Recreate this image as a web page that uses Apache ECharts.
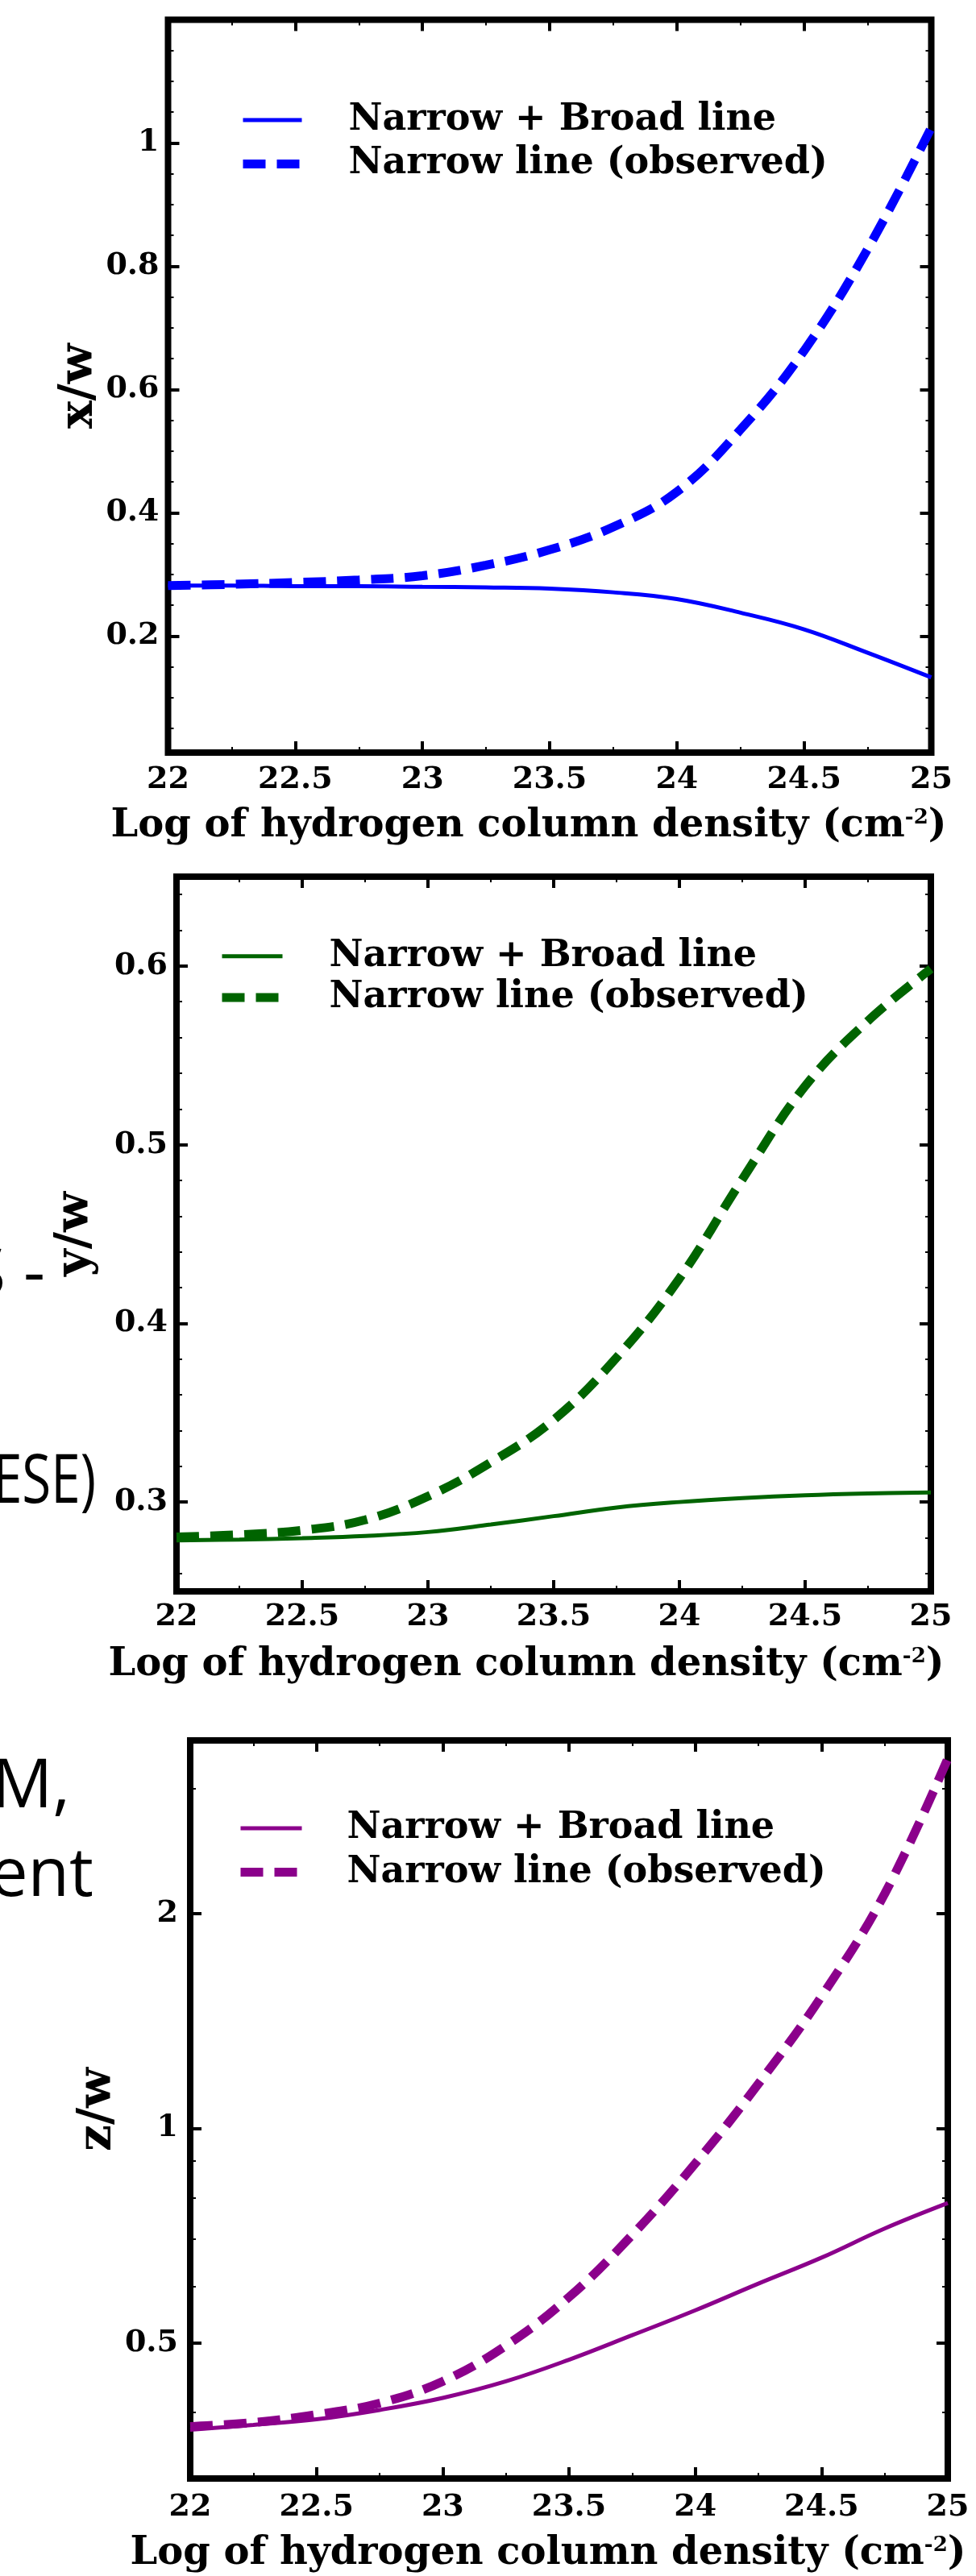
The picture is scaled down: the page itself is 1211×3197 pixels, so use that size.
<!DOCTYPE html>
<html><head><meta charset="utf-8">
<script src="https://cdn.jsdelivr.net/npm/echarts@6/dist/echarts.min.js"></script>
<style>
html,body{margin:0;padding:0;background:#fff;}
body{position:relative;width:1211px;height:3197px;overflow:hidden;}
.frag{position:absolute;font-family:'Open Sans';font-size:84px;line-height:84px;white-space:nowrap;color:#000;transform-origin:100% 50%;}
.chart{position:absolute;left:0;width:1211px;}
</style></head><body>
<div class="frag" style="right:1155px;top:1534px">S -</div>
<div class="frag" style="right:1092px;top:1791px;transform:scaleX(0.78)">(ESE)</div>
<div class="frag" style="right:1124px;top:2169px">SM,</div>
<div class="frag" style="right:1095px;top:2279px">ment</div>
<div id="c1" class="chart" style="top:0;height:1065px"></div>
<div id="c2" class="chart" style="top:1065px;height:1065px"></div>
<div id="c3" class="chart" style="top:2130px;height:1067px"></div>
<script>
// ---- data ----
const xValues = [22, 22.25, 22.5, 22.75, 23, 23.25, 23.5, 23.75, 24, 24.25, 24.5, 24.75, 25];
const seriesNames = ['Narrow + Broad line', 'Narrow line (observed)'];
const xwNarrowBroad   = [0.282, 0.282, 0.281, 0.281, 0.280, 0.279, 0.277, 0.271, 0.260, 0.238, 0.211, 0.173, 0.133];
const xwNarrowObserved= [0.282, 0.284, 0.287, 0.291, 0.298, 0.315, 0.340, 0.377, 0.434, 0.535, 0.663, 0.828, 1.025];
const ywNarrowBroad   = [0.2785, 0.279, 0.2798, 0.281, 0.2832, 0.2874, 0.2921, 0.2969, 0.300, 0.3022, 0.3038, 0.3048, 0.3054];
const ywNarrowObserved= [0.2804, 0.2817, 0.2842, 0.290, 0.3032, 0.3222, 0.346, 0.3808, 0.4251, 0.4806, 0.5328, 0.5693, 0.5984];
const zwNarrowBroad   = [0.378, 0.384, 0.391, 0.403, 0.419, 0.442, 0.474, 0.513, 0.556, 0.606, 0.659, 0.724, 0.786];
const zwNarrowObserved= [0.382, 0.387, 0.397, 0.412, 0.442, 0.496, 0.580, 0.709, 0.893, 1.155, 1.532, 2.133, 3.300];
const xwMajorTicks = [0.2, 0.4, 0.6, 0.8, 1];
const xwMinorTicks = [0.05,0.1,0.15,0.25,0.3,0.35,0.45,0.5,0.55,0.65,0.7,0.75,0.85,0.9,0.95,1.05,1.1,1.15];
const ywMajorTicks = [0.3, 0.4, 0.5, 0.6];
const ywMinorTicks = [0.26,0.28,0.32,0.34,0.36,0.38,0.42,0.44,0.46,0.48,0.52,0.54,0.56,0.58,0.62,0.64];
const zwMajorTicks = [0.5, 1, 2];
const zwMinorTicks = [0.4, 0.6, 0.7, 0.8, 0.9, 3];
const xTitle = 'Log of hydrogen column density (cm{sup|-2})';

const SERIF = 'DejaVu Serif';
const TICK_FS = 38;
const log10 = v => Math.log10(v);

function yAxisSet(c) {
  const base = {type: 'value', min: c.min, max: c.max, splitLine: {show: false}, axisLine: {show: false, onZero: false}};
  const major = {inside: true, length: 14, lineStyle: {color: '#000', width: 4}, customValues: c.majors};
  const minor = {inside: true, length: 7, lineStyle: {color: '#000', width: 2}, customValues: c.minors};
  return [
    Object.assign({}, base, {position: 'left', axisTick: major,
      axisLabel: {customValues: c.majors, margin: c.labelMargin, fontFamily: SERIF, fontSize: TICK_FS, fontWeight: 'bold', color: '#000', formatter: c.fmt},
      name: c.name, nameLocation: 'middle', nameGap: c.nameGap, nameMoveOverlap: false,
      nameTextStyle: {fontFamily: SERIF, fontSize: 58, fontWeight: 'bold', color: '#000'}}),
    Object.assign({}, base, {position: 'left', axisTick: minor, axisLabel: {show: false}}),
    Object.assign({}, base, {position: 'right', axisTick: major, axisLabel: {show: false}}),
    Object.assign({}, base, {position: 'right', axisTick: minor, axisLabel: {show: false}})
  ];
}

function xAxisSet(c) {
  const base = {type: 'value', min: 22, max: 25, interval: 0.5, splitLine: {show: false}, axisLine: {show: false, onZero: false},
    axisTick: {inside: true, length: 14, lineStyle: {color: '#000', width: 4}},
    minorTick: {show: true, splitNumber: 2, length: 7, lineStyle: {color: '#000', width: 2}},
    minorSplitLine: {show: false}};
  return [
    Object.assign({}, base, {position: 'bottom',
      axisLabel: {margin: c.labelMargin, fontFamily: SERIF, fontSize: TICK_FS, fontWeight: 'bold', color: '#000', showMinLabel: true, showMaxLabel: true, formatter: v => String(v)},
      name: xTitle, nameLocation: 'middle', nameGap: c.nameGap, nameMoveOverlap: false,
      nameTextStyle: {fontFamily: SERIF, fontSize: 48, fontWeight: 'bold', color: '#000', padding: c.namePad,
        rich: {sup: {fontFamily: SERIF, fontSize: 26, fontWeight: 'bold', color: '#000', verticalAlign: 'top'}}}}),
    Object.assign({}, base, {position: 'top', axisLabel: {show: false}})
  ];
}

function makeOption(c) {
  const tf = c.tf || (v => v);
  return {
    animation: false,
    grid: {left: c.grid[0], top: c.grid[1], width: c.grid[2], height: c.grid[3], show: true,
      borderColor: '#000', borderWidth: 8, backgroundColor: 'transparent', containLabel: false, outerBoundsMode: 'none'},
    legend: {orient: 'vertical', left: c.legend[0], top: c.legend[1], padding: 0, itemWidth: c.legend[2], itemHeight: 14,
      itemGap: c.legend[3], data: seriesNames,
      lineStyle: {width: 'inherit'}, itemStyle: {opacity: 0},
      textStyle: {fontFamily: SERIF, fontSize: 46, fontWeight: 'bold', color: '#000', lineHeight: 50, padding: [0, 0, 0, c.legend[4]]}},
    xAxis: xAxisSet(c.x),
    yAxis: yAxisSet(c.y),
    series: [
      {type: 'line', name: seriesNames[0], data: xValues.map((x, i) => [x, tf(c.solid[i])]),
        symbol: 'none', showSymbol: false, smooth: 0.4,
        lineStyle: {color: c.color, width: 5}, itemStyle: {color: c.color}},
      {type: 'line', name: seriesNames[1], data: xValues.map((x, i) => [x, tf(c.dashed[i])]),
        symbol: 'none', showSymbol: false, smooth: 0.4,
        lineStyle: {color: c.color, width: 11, type: [28, 14]}, itemStyle: {color: c.color}}
    ]
  };
}

const fmtPlain = v => String(Math.round(v * 100) / 100);

echarts.init(document.getElementById('c1')).setOption(makeOption({
  grid: [208.5, 24.5, 947, 909.5], color: '#0000ff',
  legend: [296, 124, 73, 4.5, 53],
  x: {labelMargin: 15, nameGap: 68, namePad: [0, 52, 0, 0]},
  y: {min: 0.011, max: 1.2, majors: xwMajorTicks, minors: xwMinorTicks, labelMargin: 11, fmt: fmtPlain, name: 'x/w', nameGap: 81},
  solid: xwNarrowBroad, dashed: xwNarrowObserved
}));

echarts.init(document.getElementById('c2')).setOption(makeOption({
  grid: [219, 23, 936, 887], color: '#006400',
  legend: [270, 96.8, 75, 1.2, 53],
  x: {labelMargin: 13, nameGap: 68, namePad: [0, 68, 0, 0]},
  y: {min: 0.25, max: 0.65, majors: ywMajorTicks, minors: ywMinorTicks, labelMargin: 11, fmt: fmtPlain, name: 'y/w', nameGap: 96},
  solid: ywNarrowBroad, dashed: ywNarrowObserved
}));

echarts.init(document.getElementById('c3')).setOption(makeOption({
  grid: [236, 30, 940, 916], color: '#8b008b',
  legend: [293, 113.9, 76, 4.7, 51],
  x: {labelMargin: 17, nameGap: 70, namePad: [0, 52, 0, 0]},
  y: {min: log10(0.323), max: log10(3.5), majors: zwMajorTicks.map(log10), minors: zwMinorTicks.map(log10),
      labelMargin: 15, fmt: v => String(Number(Math.pow(10, v).toPrecision(3))), name: 'z/w', nameGap: 85},
  solid: zwNarrowBroad, dashed: zwNarrowObserved, tf: log10
}));
</script>
</body></html>
